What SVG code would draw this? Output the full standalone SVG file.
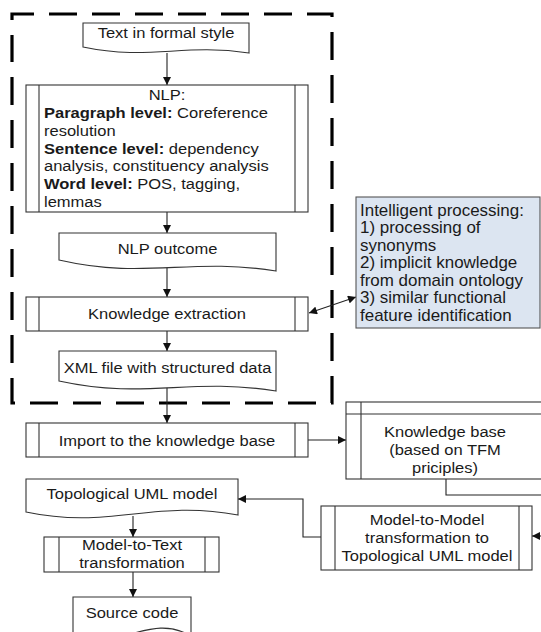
<svg xmlns="http://www.w3.org/2000/svg" width="541" height="632" viewBox="0 0 541 632">
<defs>
<marker id="arr" viewBox="0 0 10 10" refX="10" refY="5" markerWidth="9" markerHeight="8" markerUnits="userSpaceOnUse" orient="auto-start-reverse">
<path d="M0,0 L10,5 L0,10 Z" fill="#111"/>
</marker>
<style>
.box{fill:#fff;stroke:#333;stroke-width:1.1}
.ln{fill:none;stroke:#333;stroke-width:1.1}
.con{fill:none;stroke:#222;stroke-width:1.1}
.blue{fill:#dce5f1;stroke:#555;stroke-width:1.1}
text{font-family:"Liberation Sans",Arial,sans-serif;font-size:15.3px;fill:#1a1a1a}
.c{text-anchor:middle}
.b{font-weight:bold}
.dash{fill:none;stroke:#000;stroke-width:3.2;stroke-dasharray:28 15}
</style>
</defs>
<rect width="541" height="632" fill="#fff"/>
<path class="dash" d="M12,40 V403 H332 V14 H12 Z" stroke-dashoffset="6"/>

<g id="connectors">
<line class="con" x1="167" y1="53" x2="167" y2="85" marker-end="url(#arr)"/>
<line class="con" x1="167" y1="212" x2="167" y2="233" marker-end="url(#arr)"/>
<line class="con" x1="167" y1="268" x2="167" y2="297" marker-end="url(#arr)"/>
<line class="con" x1="167" y1="331" x2="167" y2="351" marker-end="url(#arr)"/>
<line class="con" x1="167" y1="385" x2="167" y2="423" marker-end="url(#arr)"/>
<line class="con" x1="309" y1="313" x2="356" y2="297" marker-start="url(#arr)" marker-end="url(#arr)"/>
<line class="con" x1="308" y1="440" x2="346" y2="440" marker-end="url(#arr)"/>
<polyline class="con" points="446,479 446,495 545,495"/>
<line class="con" x1="545" y1="536" x2="532" y2="536" marker-end="url(#arr)"/>
<polyline class="con" points="321,537 303,537 303,499 238,499" marker-end="url(#arr)"/>
<line class="con" x1="133" y1="516" x2="133" y2="537" marker-end="url(#arr)"/>
<line class="con" x1="133" y1="572" x2="133" y2="597" marker-end="url(#arr)"/>
</g>

<g id="text-formal">
<path class="box" d="M83,23 H249 V53 C183,43 149,61 83,47 Z"/>
<text class="c" transform="translate(166,38) scale(1.08,1)">Text in formal style</text>
</g>

<g id="nlp">
<rect class="box" x="26" y="85" width="282" height="127"/>
<line class="ln" x1="39" y1="85" x2="39" y2="212"/>
<line class="ln" x1="295" y1="85" x2="295" y2="212"/>
<text class="c" transform="translate(167,100) scale(1.08,1)">NLP:</text>
<text transform="translate(44,118) scale(1.08,1)"><tspan class="b">Paragraph level:</tspan> Coreference</text>
<text transform="translate(44,136) scale(1.08,1)">resolution</text>
<text transform="translate(44,153.5) scale(1.08,1)"><tspan class="b">Sentence level:</tspan> dependency</text>
<text transform="translate(44,171) scale(1.08,1)">analysis, constituency analysis</text>
<text transform="translate(44,189) scale(1.08,1)"><tspan class="b">Word level:</tspan> POS, tagging,</text>
<text transform="translate(44,206.5) scale(1.08,1)">lemmas</text>
</g>

<g id="nlp-outcome">
<path class="box" d="M59,233 H276 V271 C189,257 146,280 59,260 Z"/>
<text class="c" transform="translate(167.5,254) scale(1.08,1)">NLP outcome</text>
</g>

<g id="knowledge-extraction">
<rect class="box" x="26" y="297" width="282" height="34"/>
<line class="ln" x1="39" y1="297" x2="39" y2="331"/>
<line class="ln" x1="295" y1="297" x2="295" y2="331"/>
<text class="c" transform="translate(167,318.5) scale(1.08,1)">Knowledge extraction</text>
</g>

<g id="intelligent-processing">
<rect class="blue" x="356" y="197" width="184" height="131"/>
<text transform="translate(360,215.5) scale(1.08,1)" style="font-size:15.7px">Intelligent processing:</text>
<text transform="translate(360,233) scale(1.08,1)" style="font-size:15.7px">1) processing of</text>
<text transform="translate(360,250.5) scale(1.08,1)" style="font-size:15.7px">synonyms</text>
<text transform="translate(360,268) scale(1.08,1)" style="font-size:15.7px">2) implicit knowledge</text>
<text transform="translate(360,285.5) scale(1.08,1)" style="font-size:15.7px">from domain ontology</text>
<text transform="translate(360,303) scale(1.08,1)" style="font-size:15.7px">3) similar functional</text>
<text transform="translate(360,320.5) scale(1.08,1)" style="font-size:15.7px">feature identification</text>
</g>

<g id="xml-file">
<path class="box" d="M59,351 H276 V391 C189,377 146,400 59,381 Z"/>
<text class="c" transform="translate(167.5,373) scale(1.08,1)">XML file with structured data</text>
</g>

<g id="import-kb">
<rect class="box" x="26" y="423" width="282" height="34"/>
<line class="ln" x1="39" y1="423" x2="39" y2="457"/>
<line class="ln" x1="295" y1="423" x2="295" y2="457"/>
<text class="c" transform="translate(167,446) scale(1.08,1)">Import to the knowledge base</text>
</g>

<g id="knowledge-base">
<rect class="box" x="346" y="402" width="220" height="77"/>
<line class="ln" x1="346" y1="414" x2="566" y2="414"/>
<line class="ln" x1="361" y1="402" x2="361" y2="479"/>
<text class="c" transform="translate(445,437) scale(1.08,1)">Knowledge base</text>
<text class="c" transform="translate(445,455) scale(1.08,1)">(based on TFM</text>
<text class="c" transform="translate(445,472.5) scale(1.08,1)">priciples)</text>
</g>

<g id="topological-uml">
<path class="box" d="M26,479 H238 V515 C153,499 111,530 26,512 Z"/>
<text class="c" transform="translate(132,499) scale(1.08,1)">Topological UML model</text>
</g>

<g id="model-to-model">
<rect class="box" x="321" y="506" width="211" height="64"/>
<line class="ln" x1="335" y1="506" x2="335" y2="570"/>
<line class="ln" x1="519" y1="506" x2="519" y2="570"/>
<text class="c" transform="translate(427,525) scale(1.08,1)">Model-to-Model</text>
<text class="c" transform="translate(427,543) scale(1.08,1)">transformation to</text>
<text class="c" transform="translate(427,560.5) scale(1.08,1)">Topological UML model</text>
</g>

<g id="model-to-text">
<rect class="box" x="44" y="537" width="175" height="35"/>
<line class="ln" x1="59" y1="537" x2="59" y2="572"/>
<line class="ln" x1="205" y1="537" x2="205" y2="572"/>
<text class="c" transform="translate(132,550) scale(1.08,1)">Model-to-Text</text>
<text class="c" transform="translate(132,568) scale(1.08,1)">transformation</text>
</g>

<g id="source-code">
<path class="box" d="M73,597 H191 V636 C150,612 120,652 73,636 Z"/>
<text class="c" transform="translate(132,618) scale(1.08,1)">Source code</text>
</g>
</svg>
